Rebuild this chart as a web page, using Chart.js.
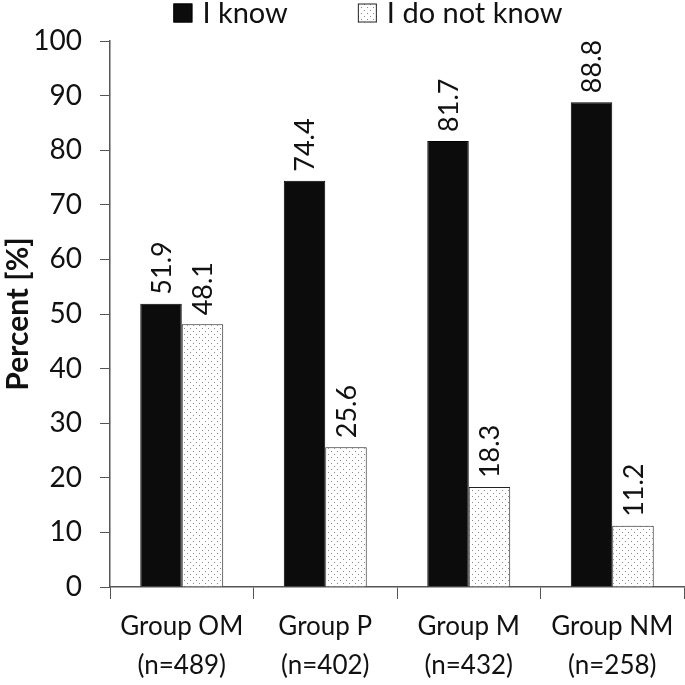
<!DOCTYPE html>
<html>
<head>
<meta charset="utf-8">
<script src="https://cdn.jsdelivr.net/npm/chart.js@4"></script>
<style>
  html, body { margin: 0; padding: 0; background: #fff; }
  #wrap { width: 685px; height: 685px; }
</style>
</head>
<body>
<div id="wrap"><canvas id="chart" width="685" height="685"></canvas></div>
<script>
// Chart data
const groups = [['Group OM', '(n=489)'], ['Group P', '(n=402)'], ['Group M', '(n=432)'], ['Group NM', '(n=258)']];
const knowValues = [51.9, 74.4, 81.7, 88.8];
const notKnowValues = [48.1, 25.6, 18.3, 11.2];
const yTicks = [0, 10, 20, 30, 40, 50, 60, 70, 80, 90, 100];

const FONT = 'Lato, "Open Sans", sans-serif';

// dotted fill for the "I do not know" bars
function makeDots() {
    const c = document.createElement('canvas');
    c.width = 6; c.height = 6;
    const g = c.getContext('2d');
    g.fillStyle = '#ffffff';
    g.fillRect(0, 0, 6, 6);
    g.fillStyle = '#8a8a8a';
    g.fillRect(1, 1, 1, 1);
    g.fillRect(4, 4, 1, 1);
    return g.createPattern(c, 'repeat');
}
const dots = makeDots();

// rotated value labels above each bar
const barLabels = {
    id: 'barLabels',
    afterDatasetsDraw(chart) {
        const ctx = chart.ctx;
        ctx.save();
        ctx.font = '27px ' + FONT;
        ctx.fillStyle = '#111';
        ctx.textAlign = 'left';
        ctx.textBaseline = 'middle';
        chart.data.datasets.forEach((ds, i) => {
            chart.getDatasetMeta(i).data.forEach((bar, j) => {
                ctx.save();
                ctx.translate(bar.x, bar.y - 9);
                ctx.rotate(-Math.PI / 2);
                ctx.fillText(ds.data[j].toFixed(1), 0, 1);
                ctx.restore();
            });
        });
        ctx.restore();
    }
};

// legend drawn along the top, spaced like the original
const topLegend = {
    id: 'topLegend',
    afterDraw(chart) {
        const ctx = chart.ctx;
        const box = 19, gapText = 10, gapItems = 70, cy = 13;
        ctx.save();
        ctx.font = '29px ' + FONT;
        ctx.textBaseline = 'middle';
        ctx.textAlign = 'left';
        const items = chart.data.datasets.map(ds => ({ text: ds.label, fill: ds.backgroundColor, stroke: ds.borderColor }));
        const widths = items.map(it => box + gapText + ctx.measureText(it.text).width);
        const total = widths.reduce((a, b) => a + b, 0) + gapItems * (items.length - 1);
        let x = 368 - total / 2;
        items.forEach((it, k) => {
            ctx.fillStyle = it.fill;
            ctx.fillRect(x, cy - box / 2, box, box);
            ctx.strokeStyle = it.stroke;
            ctx.lineWidth = 1;
            ctx.strokeRect(x + 0.5, cy - box / 2 + 0.5, box - 1, box - 1);
            ctx.fillStyle = '#111';
            ctx.fillText(it.text, x + box + gapText, cy + 1);
            x += widths[k] + gapItems;
        });
        ctx.restore();
    }
};

new Chart(document.getElementById('chart'), {
    type: 'bar',
    data: {
        labels: groups,
        datasets: [
            {
                label: 'I know',
                data: knowValues,
                backgroundColor: '#0c0c0c',
                borderColor: '#000',
                borderWidth: 1
            },
            {
                label: 'I do not know',
                data: notKnowValues,
                backgroundColor: dots,
                borderColor: '#222',
                borderWidth: 1
            }
        ]
    },
    options: {
        responsive: false,
        animation: false,
        layout: { padding: { left: 0, right: 1, top: 41, bottom: 0 } },
        datasets: {
            bar: { categoryPercentage: 0.578, barPercentage: 1.0 }
        },
        plugins: {
            tooltip: { enabled: false },
            legend: { display: false }
        },
        scales: {
            x: {
                offset: true,
                border: { color: '#555', width: 1.5 },
                grid: {
                    offset: true,
                    drawOnChartArea: false,
                    drawTicks: true,
                    tickLength: 12,
                    color: '#555'
                },
                ticks: {
                    color: '#111',
                    font: { family: FONT, size: 26, lineHeight: 1.5 },
                    padding: 8,
                    maxRotation: 0,
                    autoSkip: false
                },
                afterFit(scale) { scale.height = 98; }
            },
            y: {
                min: 0,
                max: 100,
                border: { color: '#555', width: 1.5 },
                grid: {
                    drawOnChartArea: false,
                    drawTicks: true,
                    tickLength: 10,
                    color: '#555'
                },
                afterBuildTicks(scale) {
                    scale.ticks = yTicks.map(v => ({ value: v }));
                },
                ticks: {
                    color: '#111',
                    font: { family: FONT, size: 28 },
                    padding: 18
                },
                title: {
                    display: true,
                    text: 'Percent [%]',
                    color: '#111',
                    font: { family: FONT, size: 30, weight: 'bold' },
                    padding: { top: 0, bottom: 0 }
                },
                afterFit(scale) { scale.width = 110; }
            }
        }
    },
    plugins: [barLabels, topLegend]
});
</script>
</body>
</html>
